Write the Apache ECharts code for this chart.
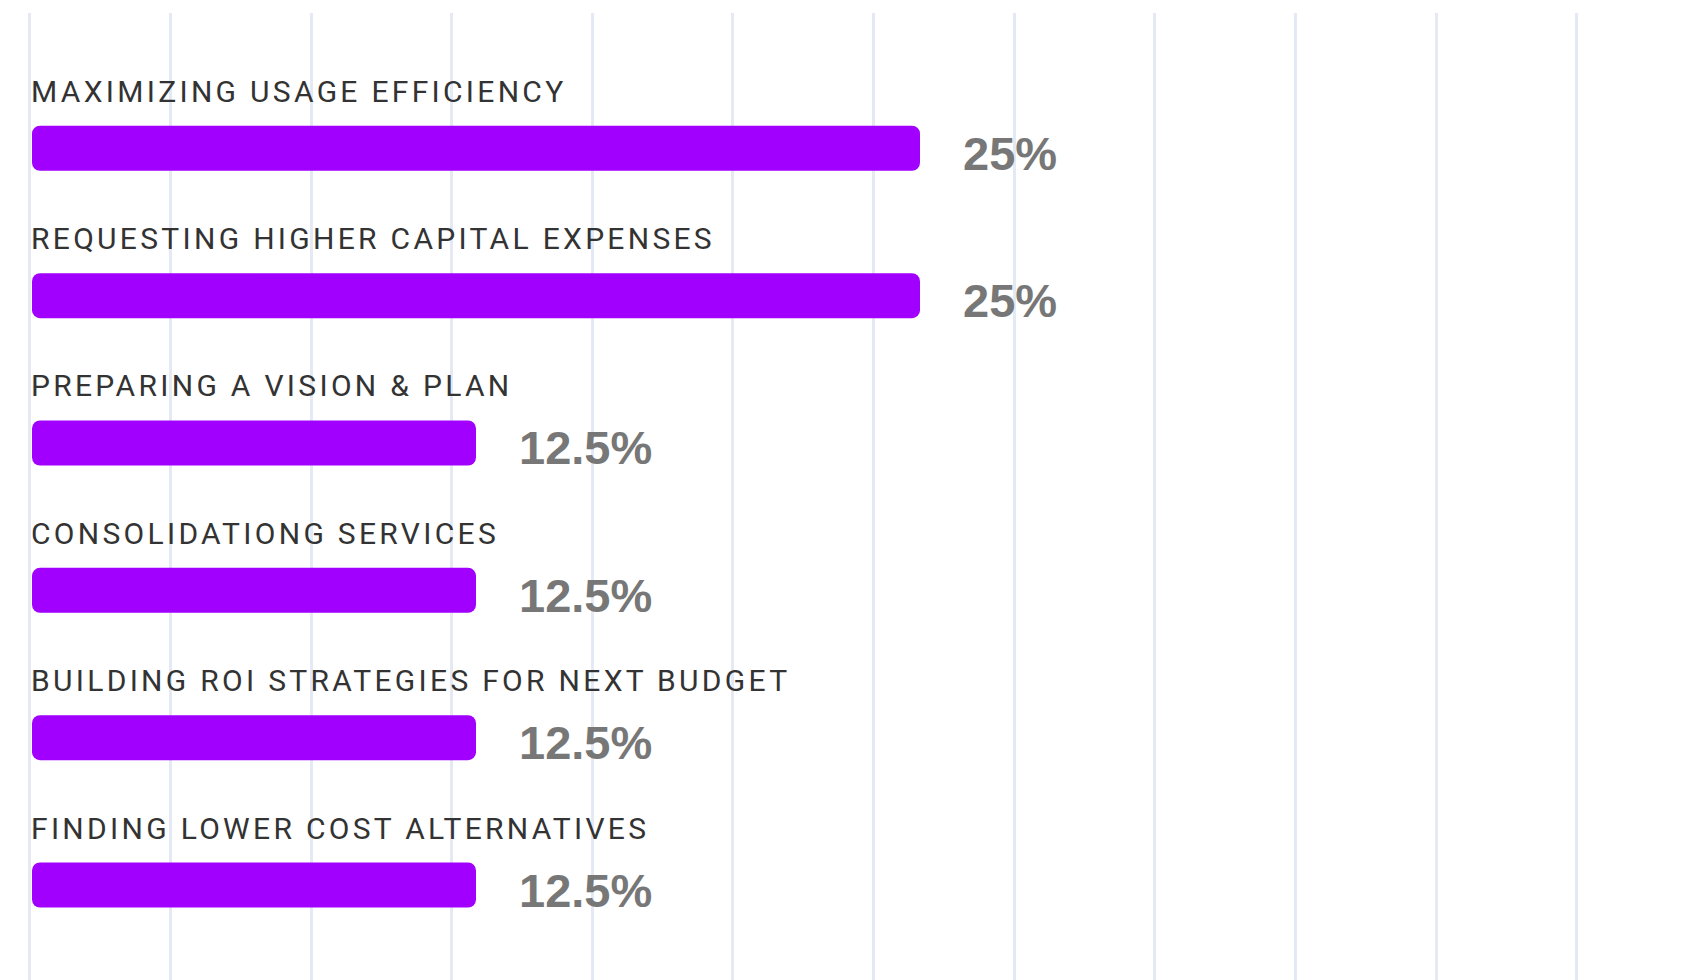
<!DOCTYPE html>
<html>
<head>
<meta charset="utf-8">
<script src="https://cdn.jsdelivr.net/npm/echarts@6/dist/echarts.min.js"></script>
<style>
  html, body { margin: 0; padding: 0; background: #ffffff; }
  #chart { width: 1706px; height: 980px; }
  #chart text[fill="#333333"] { letter-spacing: 3.3px; }
</style>
</head>
<body>
<div id="chart"></div>
<script>
const categories = [
  'MAXIMIZING USAGE EFFICIENCY',
  'REQUESTING HIGHER CAPITAL EXPENSES',
  'PREPARING A VISION & PLAN',
  'CONSOLIDATIONG SERVICES',
  'BUILDING ROI STRATEGIES FOR NEXT BUDGET',
  'FINDING LOWER COST ALTERNATIVES'
];
const values = [25, 25, 12.5, 12.5, 12.5, 12.5];
const gridSteps = 11;

const chart = echarts.init(document.getElementById('chart'), null, { renderer: 'svg' });
chart.setOption({
  backgroundColor: '#ffffff',
  animation: false,
  grid: [
    { left: 29.5, right: 129.5, top: 13, bottom: 0 },
    { left: 32, right: 786, top: 74.6, bottom: 21.3 }
  ],
  xAxis: [
    {
      gridIndex: 0, type: 'value', min: 0, max: gridSteps, interval: 1,
      axisLine: { show: false }, axisTick: { show: false }, axisLabel: { show: false },
      splitLine: { show: true, lineStyle: { color: '#E4E9F4', width: 3 } }
    },
    {
      gridIndex: 1, type: 'value', min: 0, max: 25,
      axisLine: { show: false }, axisTick: { show: false }, axisLabel: { show: false },
      splitLine: { show: false }
    }
  ],
  yAxis: [
    {
      gridIndex: 0, type: 'value', show: false
    },
    {
      gridIndex: 1, type: 'category', inverse: true, data: categories,
      axisLine: { show: false }, axisTick: { show: false }, splitLine: { show: false },
      axisLabel: {
        show: true, inside: true, interval: 0, margin: -1,
        align: 'left', verticalAlign: 'bottom',
        fontFamily: 'Roboto', fontSize: 30, color: '#333333',
        lineHeight: 30, padding: [0, 0, 42, 0]
      }
    }
  ],
  series: [
    {
      type: 'bar', xAxisIndex: 1, yAxisIndex: 1,
      data: values, barWidth: 45,
      itemStyle: { color: '#A100FF', borderRadius: 8 },
      label: {
        show: true, position: 'right', distance: 43,
        formatter: p => p.value + '%',
        fontFamily: 'Liberation Sans', fontWeight: 'bold', fontSize: 47,
        color: '#777777', offset: [0, 5]
      }
    }
  ]
});
</script>
</body>
</html>
